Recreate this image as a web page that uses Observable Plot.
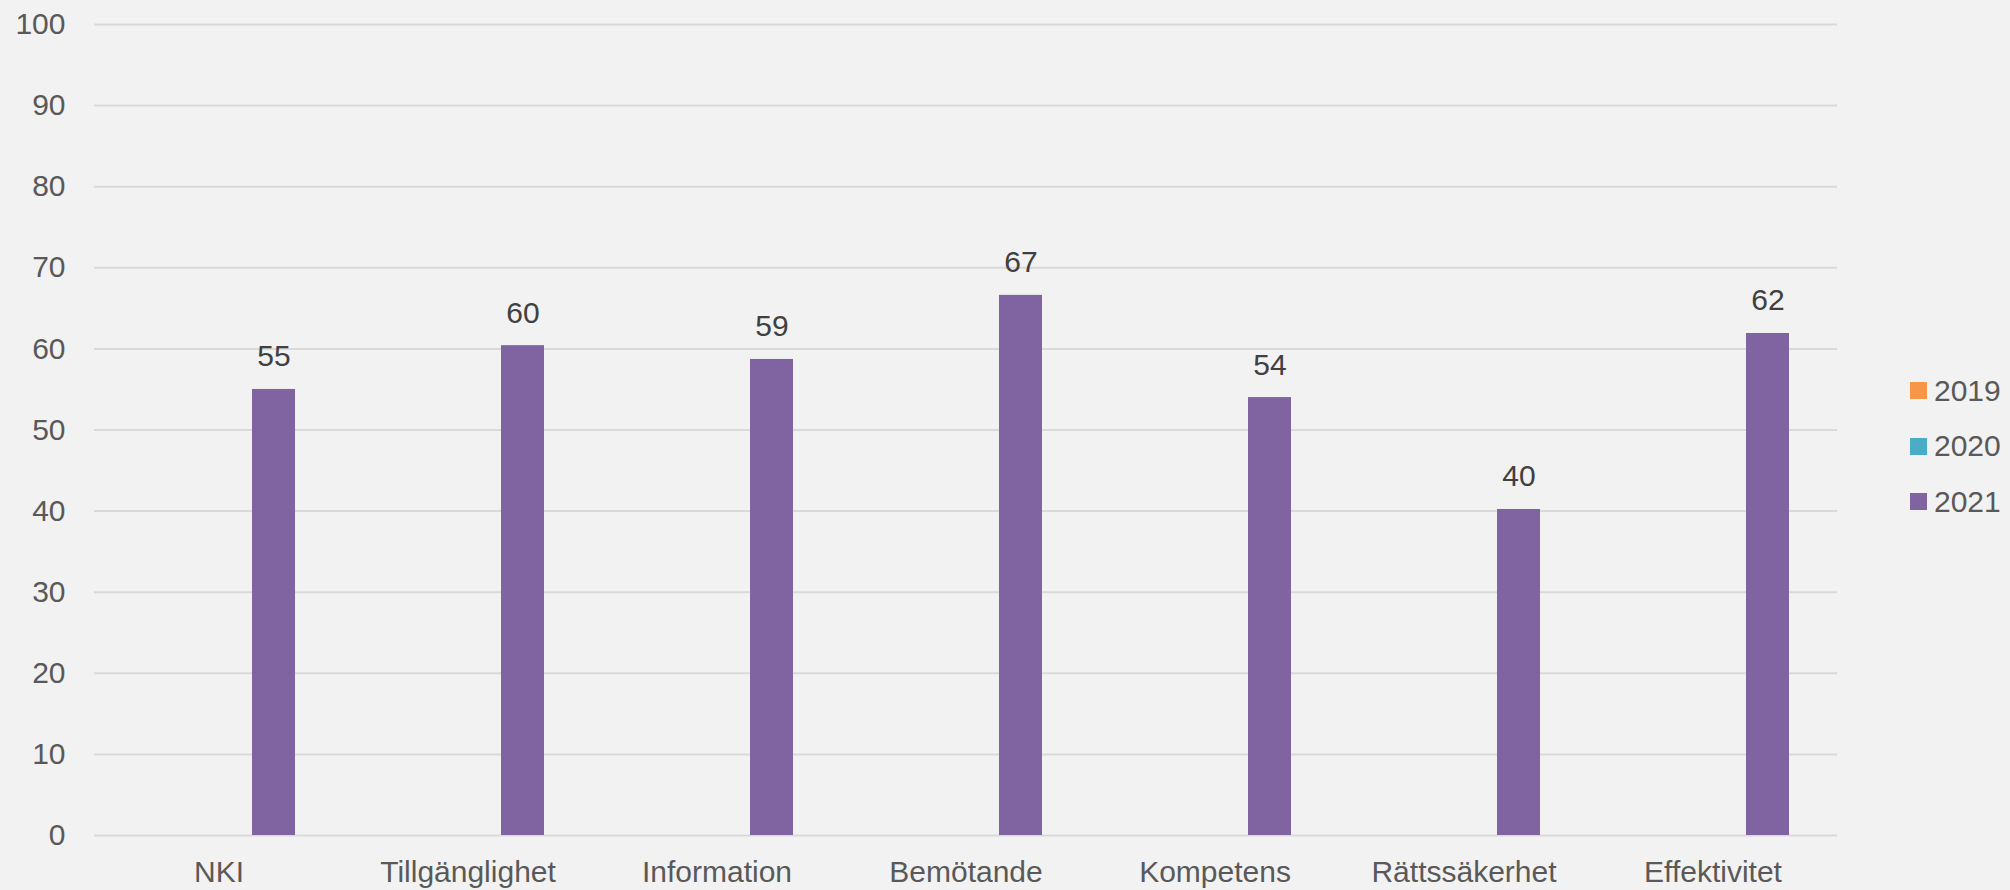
<!DOCTYPE html>
<html><head><meta charset="utf-8">
<script src="https://cdn.jsdelivr.net/npm/d3@7"></script>
<script src="https://cdn.jsdelivr.net/npm/@observablehq/plot@0.6"></script>
<style>
html,body{margin:0;padding:0;background:#f2f2f2;}
#wrap{position:relative;width:2010px;height:890px;overflow:hidden;}
#legend{position:absolute;left:1910px;top:363px;font-family:"Liberation Sans",Arial,sans-serif;font-size:30px;color:#595959;}
.item{display:flex;align-items:center;height:55.5px;}
.sw{width:17px;height:17px;margin-right:7px;}
</style></head><body>
<div id="wrap"><div id="legend"></div></div>
<script>
const categories = ["NKI","Tillgänglighet","Information","Bemötande","Kompetens","Rättssäkerhet","Effektivitet"];
const years = ["2019","2020","2021"];
const yearColors = ["#F79646","#4BACC6","#8064A2"];
const values2019 = [null,null,null,null,null,null,null];
const values2020 = [null,null,null,null,null,null,null];
const values2021 = [55,60.4,58.7,66.6,54,40.2,61.9];
const yTicks = [0,10,20,30,40,50,60,70,80,90,100];

const seriesValues = [values2019, values2020, values2021];
const data = [];
years.forEach((yr, i) => {
  categories.forEach((c, j) => {
    const v = seriesValues[i][j];
    if (v != null) data.push({category: c, year: yr, value: v});
  });
});

const chart = Plot.plot({
  width: 2010,
  height: 890,
  marginLeft: 92,
  marginRight: 171,
  marginTop: 24,
  marginBottom: 55,
  style: {background: "#f2f2f2", fontFamily: "'Liberation Sans', Arial, sans-serif", fontSize: "30px", color: "#595959"},
  fx: {domain: categories, padding: 0, label: null, axis: "bottom", tickSize: 0, tickPadding: 25},
  x: {domain: years, paddingInner: 0.214, paddingOuter: 0.834, axis: null},
  y: {domain: [0, 100], axis: null},
  color: {domain: years, range: yearColors},
  marks: [
    Plot.ruleY(yTicks, {stroke: "#d9d9d9", strokeWidth: 2}),
    Plot.axisY(yTicks, {tickSize: 0, tickPadding: 29, label: null, fill: "#595959"}),
    Plot.barY(data, {fx: "category", x: "year", y: "value", fill: "year"}),
    Plot.text(data, {fx: "category", x: "year", y: "value", text: d => d3.format(".0f")(d.value), lineAnchor: "bottom", dy: -23, fill: "#404040"})
  ]
});
document.getElementById("wrap").prepend(chart);

const legend = document.getElementById("legend");
years.forEach((yr, i) => {
  const item = document.createElement("div");
  item.className = "item";
  const sw = document.createElement("span");
  sw.className = "sw";
  sw.style.background = yearColors[i];
  const t = document.createElement("span");
  t.textContent = yr;
  item.append(sw, t);
  legend.append(item);
});
</script>
</body></html>
